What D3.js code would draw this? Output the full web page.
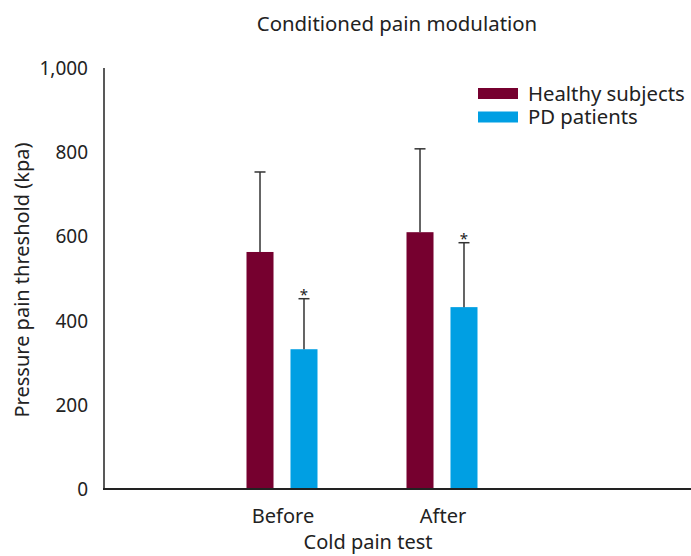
<!DOCTYPE html>
<html>
<head>
<meta charset="utf-8">
<script src="https://cdn.jsdelivr.net/npm/d3@7"></script>
<style>
  body { margin: 0; background: #fff; }
  text { font-family: "Noto Sans", sans-serif; fill: #222; }
</style>
</head>
<body>
<div id="chart"></div>
<script>
// data
const categories = ["Before", "After"];
const groups = ["Healthy subjects", "PD patients"];
const meanHealthy = [563, 610];
const sdHealthy = [190, 198];
const meanPD = [332, 432];
const sdPD = [120, 153];
const significant = [true, true]; // asterisk over PD bars
const yTicks = [0, 200, 400, 600, 800, 1000];
const colors = ["#76002f", "#009fe3"];

const w = 691;
const h = 556;

const svg = d3.select("#chart")
  .append("svg")
  .attr("width", w)
  .attr("height", h);

const y = d3.scaleLinear().domain([0, 1000]).range([489, 68]);

const x = d3.scaleBand().domain(categories).range([202, 522]);

// inner band: two bars 27px wide with a 17px gap
const xi = d3.scaleBand().domain(groups).range([0, 71]).paddingInner(0.386);

// title
svg.append("text")
  .attr("x", 397).attr("y", 31)
  .attr("text-anchor", "middle")
  .style("font-size", "20.4px")
  .text("Conditioned pain modulation");

// y axis line
svg.append("line")
  .attr("x1", 104).attr("x2", 104)
  .attr("y1", y(1000)).attr("y2", y(0))
  .attr("stroke", "#222").attr("stroke-width", 1.5);

svg.selectAll(".ytick")
  .data(yTicks)
  .enter().append("text")
  .attr("x", 88)
  .attr("y", d => y(d) + 7)
  .attr("text-anchor", "end")
  .style("font-size", "19px")
  .text(d => d3.format(",")(d));

svg.append("text")
  .attr("transform", "translate(29," + 280 + ") rotate(-90)")
  .attr("text-anchor", "middle")
  .style("font-size", "20px")
  .text("Pressure pain threshold (kpa)");

// bars
const rows = [];
categories.forEach((c, i) => {
  rows.push({ cat: c, grp: groups[0], mean: meanHealthy[i], sd: sdHealthy[i], star: false, col: colors[0] });
  rows.push({ cat: c, grp: groups[1], mean: meanPD[i], sd: sdPD[i], star: significant[i], col: colors[1] });
});

const cx = d => x(d.cat) + x.bandwidth() / 2 - 35.5 + xi(d.grp);

svg.selectAll(".bar")
  .data(rows)
  .enter().append("rect")
  .attr("x", cx)
  .attr("width", xi.bandwidth())
  .attr("y", d => y(d.mean))
  .attr("height", d => y(0) - y(d.mean))
  .attr("fill", d => d.col);

// error bars
const mid = d => cx(d) + xi.bandwidth() / 2;
svg.selectAll(".err")
  .data(rows)
  .enter().append("line")
  .attr("x1", mid).attr("x2", mid)
  .attr("y1", d => y(d.mean))
  .attr("y2", d => y(d.mean + d.sd))
  .attr("stroke", "#333").attr("stroke-width", 1.5);

svg.selectAll(".cap")
  .data(rows)
  .enter().append("line")
  .attr("x1", d => mid(d) - 5.5).attr("x2", d => mid(d) + 5.5)
  .attr("y1", d => y(d.mean + d.sd))
  .attr("y2", d => y(d.mean + d.sd))
  .attr("stroke", "#333").attr("stroke-width", 1.5);

svg.selectAll(".star")
  .data(rows.filter(d => d.star))
  .enter().append("text")
  .attr("x", mid)
  .attr("y", d => y(d.mean + d.sd) + 1)
  .attr("text-anchor", "middle")
  .style("font-size", "15px")
  .text("*");

// x axis line
svg.append("line")
  .attr("x1", 103).attr("x2", 691)
  .attr("y1", y(0)).attr("y2", y(0))
  .attr("stroke", "#222").attr("stroke-width", 2);

svg.selectAll(".xlab")
  .data(categories)
  .enter().append("text")
  .attr("x", d => x(d) + x.bandwidth() / 2 + 1)
  .attr("y", 523)
  .attr("text-anchor", "middle")
  .style("font-size", "20px")
  .text(d => d);

svg.append("text")
  .attr("x", 368).attr("y", 549)
  .attr("text-anchor", "middle")
  .style("font-size", "20px")
  .text("Cold pain test");

// legend
const lg = svg.selectAll(".lg")
  .data(groups)
  .enter().append("g")
  .attr("transform", (d, i) => "translate(478," + (88 + i * 23.5) + ")");

lg.append("rect")
  .attr("width", 40).attr("height", 11)
  .attr("fill", (d, i) => colors[i]);

lg.append("text")
  .attr("x", 50).attr("y", 12.5)
  .style("font-size", "20.3px")
  .text(d => d);
</script>
</body>
</html>
